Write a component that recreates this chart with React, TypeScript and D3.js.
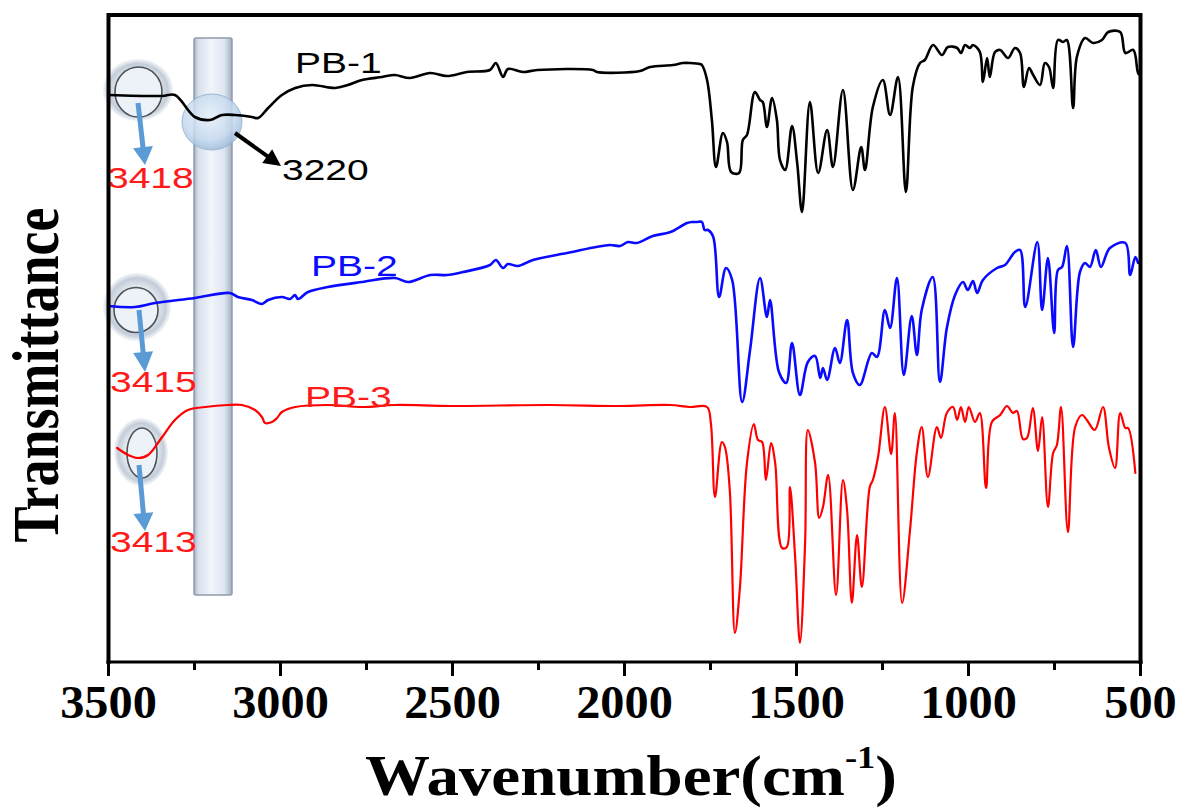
import React from 'react';
import * as d3 from 'd3';

const W = 1181;
const H = 809;

const X_MAJOR = [3500, 3000, 2500, 2000, 1500, 1000, 500];
const X_MINOR = [3250, 2750, 2250, 1750, 1250, 750];

// [wavenumber (cm-1), transmittance (a.u., offset stacked)]
const PB1: [number, number][] = [
  [3500, 567], [3344, 566], [3307, 567], [3249, 545], [3205, 542], [3170, 547], [3132, 547], [3083, 545],
  [3065, 544], [3036, 554], [2996, 567], [2957, 574], [2908, 577], [2842, 574], [2804, 577], [2763, 582],
  [2705, 585], [2668, 587], [2624, 584], [2565, 589], [2516, 586], [2458, 590], [2391, 592], [2374, 599],
  [2353, 585], [2339, 593], [2295, 590], [2254, 592], [2092, 592], [2080, 590], [1955, 591], [1926, 595],
  [1859, 597], [1830, 599], [1810, 599], [1781, 598], [1775, 597], [1760, 582], [1746, 542], [1734, 495],
  [1714, 529], [1702, 520], [1690, 490], [1667, 489], [1656, 522], [1644, 527], [1621, 570], [1606, 562],
  [1598, 560], [1586, 535], [1571, 564], [1557, 542], [1548, 502], [1533, 492], [1513, 536], [1498, 499],
  [1484, 450], [1461, 560], [1437, 489], [1411, 532], [1394, 495], [1365, 572], [1336, 472], [1312, 515],
  [1301, 492], [1278, 555], [1249, 582], [1228, 547], [1205, 585], [1182, 470], [1162, 575], [1141, 599],
  [1127, 602], [1103, 617], [1077, 607], [1060, 615], [1033, 614], [1022, 609], [1010, 617], [996, 614],
  [987, 617], [967, 610], [958, 580], [946, 604], [938, 585], [923, 610], [908, 612], [885, 604],
  [865, 614], [850, 609], [839, 575], [824, 594], [812, 587], [792, 577], [778, 599], [766, 595],
  [754, 574], [740, 622], [725, 620], [714, 622], [696, 554], [685, 605], [661, 624], [638, 619],
  [612, 622], [594, 630], [559, 630], [544, 609], [521, 612], [507, 589], [501, 587],
];

const PB2: [number, number][] = [
  [3500, 356], [3423, 355], [3365, 359], [3249, 364], [3147, 369], [3124, 365], [3083, 362], [3054, 358],
  [3036, 362], [2996, 365], [2972, 363], [2958, 367], [2949, 363], [2920, 370], [2862, 375], [2763, 380],
  [2667, 384], [2629, 380], [2565, 387], [2516, 387], [2469, 390], [2391, 397], [2374, 402], [2353, 394],
  [2339, 398], [2310, 396], [2266, 402], [2167, 409], [2043, 417], [2013, 416], [1990, 420], [1964, 419],
  [1918, 426], [1876, 429], [1859, 431], [1818, 439], [1801, 440], [1790, 440], [1775, 440], [1767, 432],
  [1757, 432], [1742, 425], [1725, 365], [1705, 394], [1687, 382], [1658, 260], [1635, 312], [1606, 384],
  [1586, 345], [1577, 362], [1551, 290], [1530, 279], [1513, 319], [1490, 267], [1467, 300], [1446, 306],
  [1431, 284], [1423, 294], [1411, 282], [1388, 314], [1374, 299], [1353, 342], [1336, 289], [1316, 277],
  [1281, 309], [1266, 305], [1243, 352], [1228, 334], [1208, 384], [1188, 287], [1165, 346], [1150, 307],
  [1136, 352], [1104, 385], [1083, 280], [1063, 334], [1039, 367], [1016, 380], [1002, 372], [987, 381],
  [975, 369], [958, 382], [917, 394], [894, 397], [865, 410], [850, 412], [835, 355], [800, 420],
  [786, 352], [769, 404], [751, 329], [740, 392], [728, 395], [714, 416], [696, 315], [676, 390],
  [661, 399], [647, 395], [630, 412], [615, 395], [589, 414], [544, 419], [530, 387], [515, 405], [507, 399],
];

const PB3: [number, number][] = [
  [3475, 214], [3443, 207], [3414, 204], [3385, 207], [3344, 225], [3307, 242], [3269, 252], [3219, 255],
  [3153, 257], [3112, 257], [3074, 252], [3054, 245], [3045, 239], [3025, 240], [3010, 244], [2996, 250],
  [2957, 255], [2862, 257], [2763, 255], [2667, 257], [2507, 256], [2217, 257], [2013, 256], [1868, 257],
  [1810, 255], [1760, 255], [1749, 239], [1737, 165], [1717, 220], [1708, 215], [1694, 172], [1679, 29],
  [1665, 72], [1644, 199], [1624, 238], [1612, 222], [1600, 220], [1589, 182], [1574, 219], [1562, 199],
  [1542, 114], [1528, 115], [1519, 175], [1504, 105], [1490, 19], [1475, 119], [1467, 232], [1446, 199],
  [1434, 144], [1423, 155], [1408, 187], [1385, 67], [1365, 182], [1353, 152], [1339, 59], [1324, 127],
  [1310, 75], [1287, 175], [1278, 182], [1263, 205], [1243, 255], [1225, 208], [1214, 249], [1193, 59],
  [1170, 132], [1150, 210], [1136, 235], [1118, 185], [1092, 235], [1080, 224], [1063, 249], [1045, 255],
  [1033, 242], [1022, 255], [1010, 240], [999, 255], [981, 240], [967, 249], [949, 174], [932, 240],
  [908, 247], [888, 256], [871, 249], [859, 251], [842, 223], [830, 224], [813, 254], [798, 211],
  [786, 245], [769, 155], [754, 209], [743, 217], [731, 255], [711, 130], [690, 235], [670, 247],
  [656, 242], [633, 232], [609, 255], [592, 215], [574, 194], [559, 249], [544, 234], [536, 234], [515, 189],
];

const SERIES = [
  { name: 'PB-1', data: PB1, color: '#000000', width: 2.6 },
  { name: 'PB-2', data: PB2, color: '#0a0aff', width: 2.6 },
  { name: 'PB-3', data: PB3, color: '#ff0000', width: 2.2 },
];

const x = d3.scaleLinear().domain([3500, 500]).range([108.5, 1140.5]);
const y = d3.scaleLinear().domain([0, 650]).range([662, 12]);

const lineGen = d3
  .line<[number, number]>()
  .x((d) => x(d[0]))
  .y((d) => y(d[1]))
  .curve(d3.curveCatmullRom.alpha(0.5));

function Arrow({ x1, y1, x2, y2, color, w, hl, hw }: any) {
  const dx = x2 - x1;
  const dy = y2 - y1;
  const len = Math.sqrt(dx * dx + dy * dy);
  const ux = dx / len;
  const uy = dy / len;
  const bx = x2 - ux * hl;
  const by = y2 - uy * hl;
  const px = -uy * (hw / 2);
  const py = ux * (hw / 2);
  return (
    <g>
      <line x1={x1} y1={y1} x2={bx + ux * 1} y2={by + uy * 1} stroke={color} strokeWidth={w} />
      <polygon points={`${x2},${y2} ${bx + px},${by + py} ${bx - px},${by - py}`} fill={color} />
    </g>
  );
}

function Label({ tx, ty, text, color, sx = 1.3, size = 30 }: any) {
  return (
    <text
      transform={`translate(${tx},${ty}) scale(${sx},1)`}
      fontFamily="'Liberation Sans', Arial, sans-serif"
      fontSize={size}
      fill={color}
    >
      {text}
    </text>
  );
}

export default function App() {
  return (
    <svg width={W} height={H} style={{ display: 'block', position: 'absolute', left: 0, top: 0 }}>
      <defs>
        <linearGradient id="tube" x1="0" x2="1" y1="0" y2="0">
          <stop offset="0%" stopColor="#a9b5c6" />
          <stop offset="12%" stopColor="#d8e0ec" />
          <stop offset="45%" stopColor="#f1f5fb" />
          <stop offset="80%" stopColor="#dfe6f1" />
          <stop offset="100%" stopColor="#a1aec0" />
        </linearGradient>
        <radialGradient id="halo" cx="50%" cy="50%" r="50%">
          <stop offset="0%" stopColor="#f3f6fa" stopOpacity={1} />
          <stop offset="60%" stopColor="#e4e9f0" stopOpacity={1} />
          <stop offset="85%" stopColor="#bcc7d4" stopOpacity={0.9} />
          <stop offset="100%" stopColor="#d5dce5" stopOpacity={0.3} />
        </radialGradient>
        <radialGradient id="bubble" cx="45%" cy="40%" r="60%">
          <stop offset="0%" stopColor="#e8f1fb" />
          <stop offset="70%" stopColor="#c6daef" />
          <stop offset="100%" stopColor="#a0bedd" />
        </radialGradient>
      </defs>
      <rect x={0} y={0} width={W} height={H} fill="#ffffff" />

      {/* translucent tube */}
      <rect x={194} y={38} width={38} height={557} rx={2} fill="url(#tube)" stroke="#8e9aab" strokeWidth={1.5} />

      {/* halos */}
      <ellipse cx={138} cy={90} rx={35} ry={31} fill="url(#halo)" />
      <ellipse cx={138.5} cy={92} rx={23.5} ry={25} fill="#edf2f9" stroke="#4d5258" strokeWidth={1.6} />
      <ellipse cx={137} cy={307} rx={34} ry={34} fill="url(#halo)" />
      <ellipse cx={136} cy={310} rx={22} ry={22.5} fill="#edf2f9" stroke="#4d5258" strokeWidth={1.6} />
      <ellipse cx={141} cy={452} rx={27} ry={34} fill="url(#halo)" />
      <ellipse cx={142} cy={453} rx={15} ry={25} fill="#edf2f9" stroke="#4d5258" strokeWidth={1.6} />
      <ellipse cx={212} cy={122} rx={30} ry={28} fill="url(#bubble)" stroke="#8fb0d0" strokeWidth={1} opacity={0.85} />

      {/* spectra */}
      {SERIES.map((s) => (
        <path
          key={s.name}
          d={lineGen(s.data) || ''}
          fill="none"
          stroke={s.color}
          strokeWidth={s.width}
          strokeLinejoin="round"
          strokeLinecap="round"
        />
      ))}

      {/* arrows */}
      <Arrow x1={138} y1={103} x2={145} y2={165} color="#5b9bd5" w={5} hl={18} hw={20} />
      <Arrow x1={139} y1={310} x2={145} y2={372} color="#5b9bd5" w={5} hl={20} hw={20} />
      <Arrow x1={139} y1={465} x2={145} y2={531} color="#5b9bd5" w={5} hl={18} hw={20} />
      <Arrow x1={235} y1={133} x2={281} y2={166} color="#000000" w={4} hl={17} hw={17} />

      {/* annotation labels */}
      <Label tx={295} ty={73} text="PB-1" color="#000000" />
      <Label tx={282} ty={180} text="3220" color="#000000" />
      <Label tx={107} ty={188} text="3418" color="#ff1a1a" />
      <Label tx={311} ty={276} text="PB-2" color="#0a0aff" />
      <Label tx={110} ty={392} text="3415" color="#ff1a1a" />
      <Label tx={305} ty={407} text="PB-3" color="#ff1a1a" />
      <Label tx={110} ty={552} text="3413" color="#ff1a1a" />

      {/* frame */}
      <line x1={108.5} y1={15} x2={1140.5} y2={15} stroke="#000" strokeWidth={4} />
      <line x1={108.5} y1={13} x2={108.5} y2={664} stroke="#000" strokeWidth={4} />
      <line x1={1140.5} y1={13} x2={1140.5} y2={664} stroke="#000" strokeWidth={4} />
      <line x1={106.5} y1={662} x2={1142.5} y2={662} stroke="#000" strokeWidth={3} />

      {/* ticks */}
      {X_MAJOR.map((t) => (
        <line key={'M' + t} x1={x(t)} x2={x(t)} y1={662} y2={676} stroke="#000" strokeWidth={3} />
      ))}
      {X_MINOR.map((t) => (
        <line key={'m' + t} x1={x(t)} x2={x(t)} y1={662} y2={670} stroke="#000" strokeWidth={3} />
      ))}
      {X_MAJOR.map((t) => (
        <text
          key={'L' + t}
          transform={`translate(${x(t)},718) scale(1.05,1)`}
          textAnchor="middle"
          fontFamily="'Liberation Serif', 'Times New Roman', serif"
          fontWeight="bold"
          fontSize={46}
          fill="#000"
        >
          {t}
        </text>
      ))}

      {/* axis titles */}
      <text
        transform="translate(631,795) scale(1.14,1)"
        textAnchor="middle"
        fontFamily="'Liberation Serif', 'Times New Roman', serif"
        fontWeight="bold"
        fontSize={57}
        fill="#000"
      >
        Wavenumber(cm
        <tspan fontSize={32} dy={-27}>-1</tspan>
        <tspan dy={27}>)</tspan>
      </text>
      <text
        transform="translate(58,375) scale(1.22,1) rotate(-90)"
        textAnchor="middle"
        fontFamily="'Liberation Serif', 'Times New Roman', serif"
        fontWeight="bold"
        fontSize={54}
        fill="#000"
      >
        Transmittance
      </text>
    </svg>
  );
}
